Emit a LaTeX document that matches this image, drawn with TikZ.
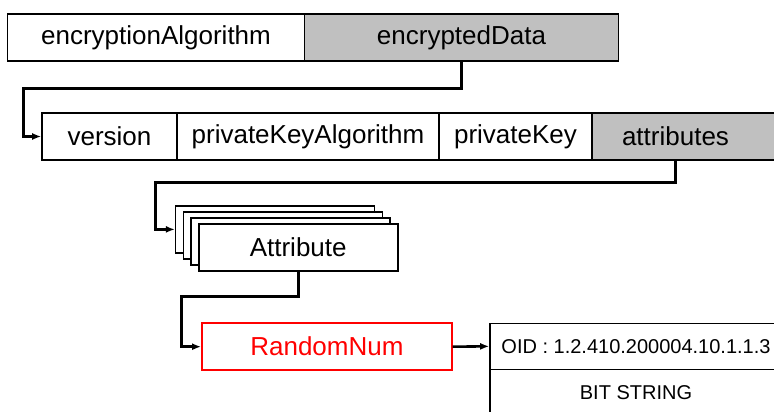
\documentclass[tikz,border=0pt]{standalone}
\usepackage{fontspec}
\setmainfont{Liberation Sans}
\usetikzlibrary{arrows.meta}
\definecolor{shade}{HTML}{C0C0C0}

\tikzset{
	field/.style={rectangle, draw=black, line width=1.6pt, minimum height=47pt, inner sep=0pt, font=\fontsize{26}{30}\selectfont},
	shaded/.style={field, fill=shade},
	small/.style={field, font=\fontsize{20}{24}\selectfont},
	link/.style={-{Latex[length=9pt,width=7pt]}, line width=2.6pt}
}

\begin{document}
\begin{tikzpicture}[x=1pt, y=-1pt]

		\useasboundingbox (0,0) rectangle (774,412);
		\clip (0,0) rectangle (774,412);

		% outer sequence
		\node[field, minimum width=297pt](encAlg) at (156,37.5){encryptionAlgorithm};
		\node[shaded, minimum width=314pt](encData) at (461.5,37.5){encryptedData};

		% private key info
		\node[field, minimum width=135pt](version) at (109.5,136.5){version};
		\node[field, minimum width=262pt](pkAlg) at (308,136.5){privateKeyAlgorithm};
		\node[field, minimum width=153pt](pKey) at (515.5,136.5){privateKey};
		\node[shaded, minimum width=200pt](attrBox) at (692,136.5){};
		\node[font=\fontsize{26}{30}\selectfont, inner sep=0pt](attrText) at (675.5,136.5){attributes};

		% set of attributes
		\foreach \k in {3,2,1}
			\node[field, fill=white, minimum width=199pt](attr\k) at (298.2-7.67*\k,247.7-6.1*\k){};
		\node[field, fill=white, minimum width=199pt](attr) at (298.2,247.7){Attribute};

		\node[field, draw=red, text=red, minimum width=250pt](randNum) at (326.9,346.7){RandomNum};
		\node[small, minimum width=292pt, minimum height=46pt](oid) at (636,346.3){OID : 1.2.410.200004.10.1.1.3};
		\node[small, minimum width=292pt](bitStr) at (636,392.8){BIT STRING};

		\coordinate (knee1) at (23.3,88.3);
		\coordinate (knee2) at (155.7,182.7);
		\coordinate (knee3) at (181.7,296.7);

		\draw [link] (encData.south) |- (knee1) |- (version.west);
		\draw [link] (attrText |- attrBox.south) |- (knee2) |- (attr3.west);
		\draw [link] (attr.south) |- (knee3) |- (randNum.west);
		\draw [link] (randNum.east) -- (oid.west);

	\end{tikzpicture}
\end{document}
